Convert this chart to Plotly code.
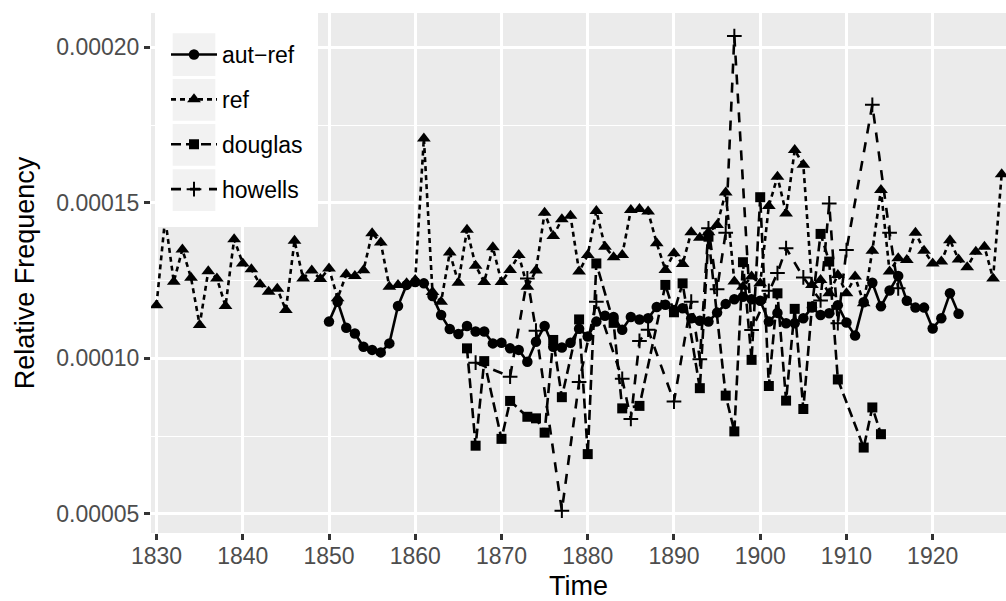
import plotly.graph_objects as go

# ---------------- data (relative frequency, in units of 1e-6) ----------------
UNIT = 1e-6

autref_years = [1850, 1851, 1852, 1853, 1854, 1855, 1856, 1857, 1858, 1859,
                1860, 1861, 1862, 1863, 1864, 1865, 1866, 1867, 1868, 1869,
                1870, 1871, 1872, 1873, 1874, 1875, 1876, 1877, 1878, 1879,
                1880, 1881, 1882, 1883, 1884, 1885, 1886, 1887, 1888, 1889,
                1890, 1891, 1892, 1893, 1894, 1895, 1896, 1897, 1898, 1899,
                1900, 1901, 1902, 1903, 1904, 1905, 1906, 1907, 1908, 1909,
                1910, 1911, 1912, 1913, 1914, 1915, 1916, 1917, 1918, 1919,
                1920, 1921, 1922, 1923]
autref_vals = [111.8, 118.2, 109.8, 108.0, 103.7, 102.7, 101.9, 104.8, 116.8, 123.6,
               124.5, 124.1, 120.0, 113.9, 109.4, 107.8, 110.4, 108.6, 108.6, 104.8,
               105.0, 103.2, 102.7, 98.9, 105.3, 110.4, 103.7, 103.5, 105.0, 109.5,
               107.0, 111.8, 113.7, 113.3, 109.2, 113.3, 112.5, 112.9, 116.5, 117.2,
               115.5, 116.1, 112.9, 112.1, 111.8, 114.7, 117.5, 119.0, 119.8, 119.0,
               118.5, 111.8, 114.6, 111.3, 111.3, 112.9, 116.3, 113.9, 114.5, 117.1,
               111.5, 107.3, 118.0, 124.3, 116.7, 121.8, 126.5, 118.5, 116.3, 116.3,
               109.6, 112.9, 120.9, 114.3]

ref_years = [1830, 1831, 1832, 1833, 1834, 1835, 1836, 1837, 1838, 1839,
             1840, 1841, 1842, 1843, 1844, 1845, 1846, 1847, 1848, 1849,
             1850, 1851, 1852, 1853, 1854, 1855, 1856, 1857, 1858, 1859,
             1860, 1861, 1862, 1863, 1864, 1865, 1866, 1867, 1868, 1869,
             1870, 1871, 1872, 1873, 1874, 1875, 1876, 1877, 1878, 1879,
             1880, 1881, 1882, 1883, 1884, 1885, 1886, 1887, 1888, 1889,
             1890, 1891, 1892, 1893, 1894, 1895, 1896, 1897, 1898, 1899,
             1900, 1901, 1902, 1903, 1904, 1905, 1906, 1907, 1908, 1909,
             1910, 1911, 1912, 1913, 1914, 1915, 1916, 1917, 1918, 1919,
             1920, 1921, 1922, 1923, 1924, 1925, 1926, 1927, 1928]
ref_vals = [117.1, 145.0, 124.6, 135.0, 125.9, 110.7, 128.0, 125.7, 116.8, 138.3,
            130.5, 128.6, 123.8, 121.4, 122.4, 115.5, 137.8, 125.7, 128.2, 125.5,
            128.9, 119.3, 127.0, 126.5, 128.3, 140.2, 137.2, 123.0, 123.6, 124.1,
            125.2, 170.7, 121.3, 118.2, 134.0, 124.3, 141.3, 129.8, 124.5, 135.7,
            124.5, 128.4, 133.2, 123.0, 128.2, 146.8, 139.3, 144.7, 145.8, 127.9,
            133.2, 147.4, 135.9, 132.5, 133.2, 147.7, 148.0, 147.2, 137.0, 128.4,
            133.8, 130.3, 140.5, 138.8, 140.5, 142.9, 153.3, 124.7, 123.0, 126.3,
            124.1, 149.0, 158.4, 146.6, 167.0, 162.2, 123.6, 125.2, 120.9, 126.8,
            120.9, 126.3, 117.7, 134.6, 154.1, 127.9, 132.2, 131.6, 140.4, 134.6,
            130.5, 131.1, 138.0, 131.8, 129.3, 134.3, 135.9, 125.7, 159.2]

douglas_years = [1866, 1867, 1868, 1870, 1871, 1873, 1874, 1875, 1876, 1877,
                 1879, 1880, 1881, 1883, 1884, 1886, 1889, 1890, 1891, 1893,
                 1894, 1896, 1897, 1898, 1899, 1900, 1901, 1902, 1903, 1904,
                 1905, 1906, 1907, 1908, 1909, 1912, 1913, 1914]
douglas_vals = [103.2, 71.9, 99.1, 74.1, 86.3, 81.2, 80.7, 76.1, 105.9, 87.5,
                112.5, 69.2, 130.5, 111.4, 83.9, 84.7, 123.6, 114.8, 124.1, 90.4,
                139.1, 88.0, 76.5, 130.9, 99.5, 151.8, 91.1, 120.9, 86.4, 115.9,
                83.7, 116.6, 140.0, 131.1, 93.2, 71.3, 84.2, 75.6]

howells_years = [1867, 1871, 1873, 1874, 1877, 1879, 1881, 1884, 1885, 1886,
                 1887, 1890, 1892, 1893, 1894, 1895, 1896, 1897, 1899, 1901,
                 1902, 1903, 1905, 1907, 1908, 1909, 1910, 1913, 1915, 1916]
howells_vals = [98.6, 94.1, 125.7, 108.9, 51.0, 92.4, 118.2, 93.4, 80.5, 105.6,
                109.2, 86.1, 118.2, 99.7, 141.8, 122.2, 140.4, 203.6, 109.1, 121.7,
                127.4, 135.4, 126.0, 118.6, 149.8, 111.3, 134.8, 181.5, 140.4, 122.5]

series_names = ["aut\u2212ref", "ref", "douglas", "howells"]
x_tick_vals = [1830, 1840, 1850, 1860, 1870, 1880, 1890, 1900, 1910, 1920]
y_tick_vals = [0.00005, 0.00010, 0.00015, 0.00020]

# ---------------- styling ----------------
W, H = 1006, 601
PL, PR, PT, PB = 151, 1006, 13, 533          # panel edges in pixels
FONT = "Liberation Sans, Arial, Helvetica, sans-serif"
TICK_FS = 23
TITLE_FS = 27
LW = 2.6


def px_x(p):
    return (p - PL) / (PR - PL)


def px_y(p):
    return (PB - p) / (PB - PT)


styles = [
    dict(dash="solid", symbol="circle", size=10.5, mline=0),
    dict(dash="5px,4px", symbol="triangle-up", size=12, mline=0),
    dict(dash="10px,5px", symbol="square", size=10, mline=0),
    dict(dash="10px,9px", symbol="cross-thin", size=10.5, mline=2),
]
data = [
    (autref_years, autref_vals),
    (ref_years, ref_vals),
    (douglas_years, douglas_vals),
    (howells_years, howells_vals),
]

fig = go.Figure()
for name, (xs, vs), st in zip(series_names, data, styles):
    marker = dict(symbol=st["symbol"], size=st["size"], color="black")
    if st["mline"]:
        marker["line"] = dict(width=st["mline"], color="black")
    else:
        marker["line"] = dict(width=0)
    fig.add_trace(go.Scatter(
        x=xs, y=[v * UNIT for v in vs], name=name, legendgroup=name,
        mode="lines+markers",
        line=dict(color="black", width=LW, dash=st["dash"]),
        marker=marker,
    ))

# legend background box and grey key squares (ggplot-like)
shapes = [dict(type="rect", xref="paper", yref="paper", layer="above",
               x0=px_x(155), x1=px_x(318), y0=px_y(12.5), y1=px_y(227),
               fillcolor="white", line=dict(width=0))]
for top, bot in [(33.3, 76), (79, 120.7), (124, 165.7), (169.3, 211)]:
    shapes.append(dict(type="rect", xref="paper", yref="paper", layer="above",
                       x0=px_x(172.7), x1=px_x(215.3), y0=px_y(bot), y1=px_y(top),
                       fillcolor="#F2F2F2", line=dict(width=0)))

fig.update_layout(
    width=W, height=H,
    margin=dict(l=PL, r=W - PR, t=PT, b=H - PB, pad=0),
    paper_bgcolor="white", plot_bgcolor="#EBEBEB",
    font=dict(family=FONT, color="black"),
    showlegend=True,
    legend=dict(x=px_x(166), y=px_y(33), xanchor="left", yanchor="top",
                bgcolor="rgba(0,0,0,0)", borderwidth=0,
                font=dict(size=TICK_FS, color="black", family=FONT),
                itemwidth=46, tracegroupgap=12, traceorder="grouped",
                itemclick=False),
    shapes=shapes,
    xaxis=dict(
        range=[1829.36, 1928.5], tickvals=x_tick_vals,
        ticktext=[str(v) for v in x_tick_vals],
        showgrid=True, gridcolor="white", gridwidth=2.7,
        zeroline=False, showline=False,
        ticks="outside", ticklen=6, tickwidth=2.6, tickcolor="#333333",
        ticklabelstandoff=-4,
        tickfont=dict(size=TICK_FS, color="#4D4D4D", family=FONT),
        title=dict(text="Time", font=dict(size=TITLE_FS, color="black", family=FONT),
                   standoff=8),
    ),
    yaxis=dict(
        range=[4.383e-5, 2.1103e-4], tickvals=y_tick_vals,
        ticktext=["%.5f" % v for v in y_tick_vals],
        showgrid=True, gridcolor="white", gridwidth=2.7,
        zeroline=False, showline=False,
        ticks="outside", ticklen=6, tickwidth=2.6, tickcolor="#333333",
        tickfont=dict(size=TICK_FS, color="#4D4D4D", family=FONT),
        minor=dict(tickvals=[0.000075, 0.000125, 0.000175], showgrid=True,
                   gridcolor="white", gridwidth=1.4, ticks=""),
        title=dict(text="Relative Frequency",
                   font=dict(size=TITLE_FS, color="black", family=FONT), standoff=13),
    ),
)

fig.write_html("out.html")
